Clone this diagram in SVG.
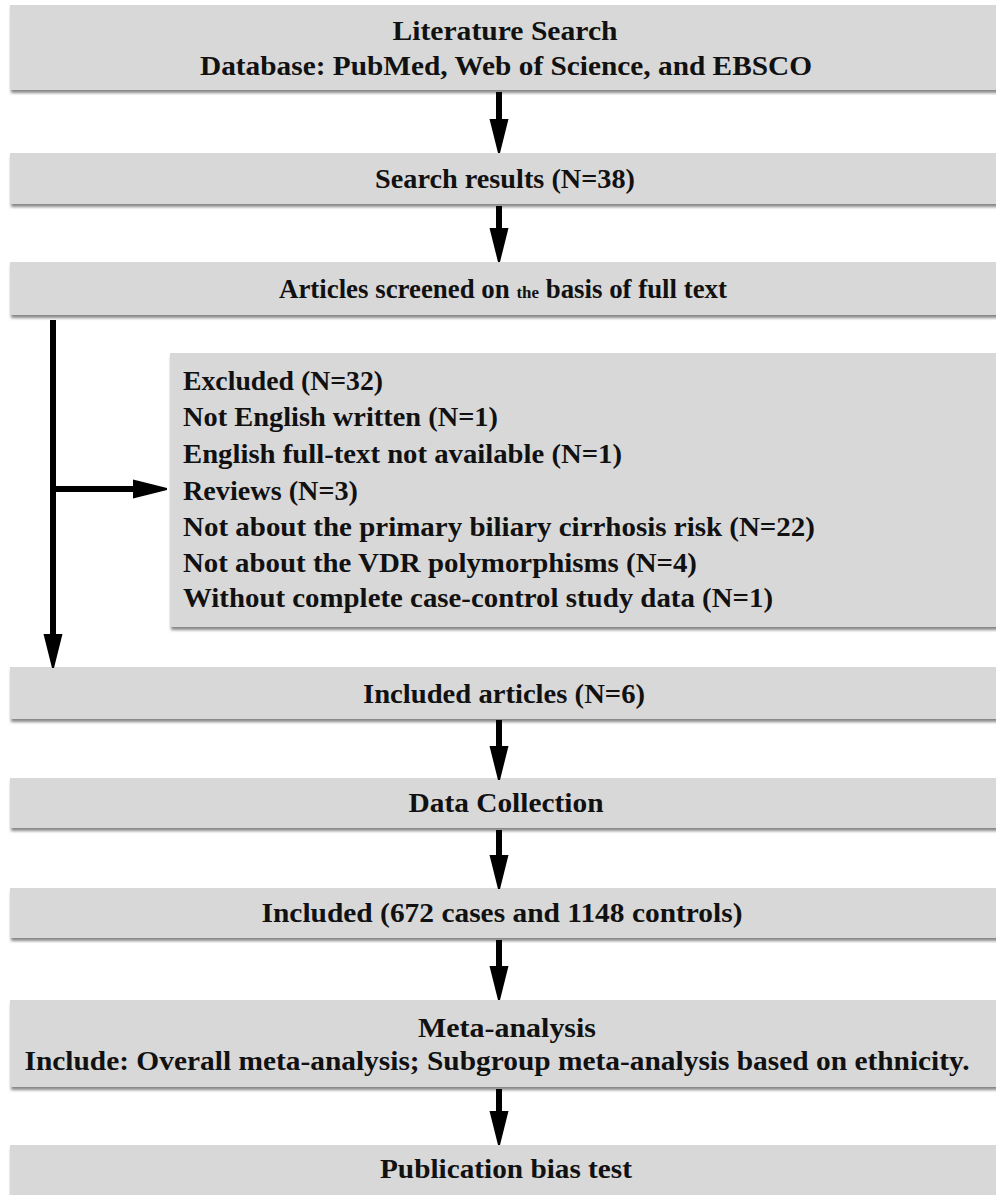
<svg xmlns="http://www.w3.org/2000/svg" width="996" height="1195" viewBox="0 0 996 1195">
<defs>
<filter id="sh" x="-5%" y="-20%" width="110%" height="150%">
<feDropShadow dx="1" dy="3" stdDeviation="1.6" flood-color="#555" flood-opacity="0.7"/>
</filter>
<marker id="ah" markerUnits="userSpaceOnUse" markerWidth="36" markerHeight="22" refX="0" refY="10.5" orient="auto" viewBox="0 0 36 22">
<polygon points="0,1 34,9.5 34,11.5 0,20" fill="#000"/>
</marker>
</defs>
<style>
.box{fill:#d8d8d8;filter:url(#sh)}
.t{font-family:"Liberation Serif","Times New Roman",serif;font-weight:bold;font-size:27px;fill:#111}
.c{text-anchor:middle}
.ln{stroke:#000;stroke-width:6;fill:none}
</style>
<rect width="996" height="1195" fill="#fff"/>
<g id="n1"><rect class="box" x="10" y="5" width="992" height="85"/>
<text class="t c" x="505" y="40" textLength="225" lengthAdjust="spacingAndGlyphs">Literature Search</text>
<text class="t c" x="506" y="75" textLength="612" lengthAdjust="spacingAndGlyphs">Database: PubMed, Web of Science, and EBSCO</text></g>
<g id="n2"><rect class="box" x="10" y="153" width="992" height="51"/>
<text class="t c" x="505" y="188" textLength="260" lengthAdjust="spacingAndGlyphs">Search results (N=38)</text></g>
<g id="n3"><rect class="box" x="10" y="262" width="992" height="53"/>
<text class="t c" x="503" y="298" textLength="448" lengthAdjust="spacingAndGlyphs">Articles screened on <tspan font-size="17">the</tspan> basis of full text</text></g>
<g id="n4"><rect class="box" x="170" y="353" width="832" height="274"/>
<text class="t" x="183" y="390" textLength="200" lengthAdjust="spacingAndGlyphs">Excluded (N=32)</text>
<text class="t" x="183" y="426" textLength="315" lengthAdjust="spacingAndGlyphs">Not English written (N=1)</text>
<text class="t" x="183" y="463" textLength="439" lengthAdjust="spacingAndGlyphs">English full-text not available (N=1)</text>
<text class="t" x="183" y="500" textLength="175" lengthAdjust="spacingAndGlyphs">Reviews (N=3)</text>
<text class="t" x="183" y="536" textLength="632" lengthAdjust="spacingAndGlyphs">Not about the primary biliary  cirrhosis risk (N=22)</text>
<text class="t" x="183" y="572" textLength="514" lengthAdjust="spacingAndGlyphs">Not about the VDR polymorphisms (N=4)</text>
<text class="t" x="183" y="607" textLength="590" lengthAdjust="spacingAndGlyphs">Without complete case-control study data (N=1)</text></g>
<g id="n5"><rect class="box" x="10" y="667" width="992" height="52"/>
<text class="t c" x="504" y="703" textLength="282" lengthAdjust="spacingAndGlyphs">Included articles (N=6)</text></g>
<g id="n6"><rect class="box" x="10" y="778" width="992" height="50"/>
<text class="t c" x="506" y="812" textLength="195" lengthAdjust="spacingAndGlyphs">Data Collection</text></g>
<g id="n7"><rect class="box" x="10" y="888" width="992" height="50"/>
<text class="t c" x="502" y="922" textLength="481" lengthAdjust="spacingAndGlyphs">Included (672 cases and 1148 controls)</text></g>
<g id="n8"><rect class="box" x="10" y="1000" width="992" height="87"/>
<text class="t c" x="507" y="1037" textLength="178" lengthAdjust="spacingAndGlyphs">Meta-analysis</text>
<text class="t c" x="497" y="1070" textLength="945" lengthAdjust="spacingAndGlyphs">Include:  Overall meta-analysis;  Subgroup meta-analysis based on ethnicity.</text></g>
<g id="n9"><rect class="box" x="10" y="1145" width="992" height="60"/>
<text class="t c" x="506" y="1178" textLength="252" lengthAdjust="spacingAndGlyphs">Publication bias test</text></g>
<g id="connectors">
<line class="ln" x1="499" y1="92" x2="499" y2="119" marker-end="url(#ah)"/>
<line class="ln" x1="499" y1="206" x2="499" y2="228" marker-end="url(#ah)"/>
<line class="ln" x1="53" y1="320" x2="53" y2="634" marker-end="url(#ah)"/>
<line class="ln" x1="53" y1="489" x2="133" y2="489" marker-end="url(#ah)"/>
<line class="ln" x1="499" y1="720" x2="499" y2="746" marker-end="url(#ah)"/>
<line class="ln" x1="499" y1="830" x2="499" y2="855" marker-end="url(#ah)"/>
<line class="ln" x1="499" y1="940" x2="499" y2="966" marker-end="url(#ah)"/>
<line class="ln" x1="499" y1="1089" x2="499" y2="1111" marker-end="url(#ah)"/>
</g>
</svg>
